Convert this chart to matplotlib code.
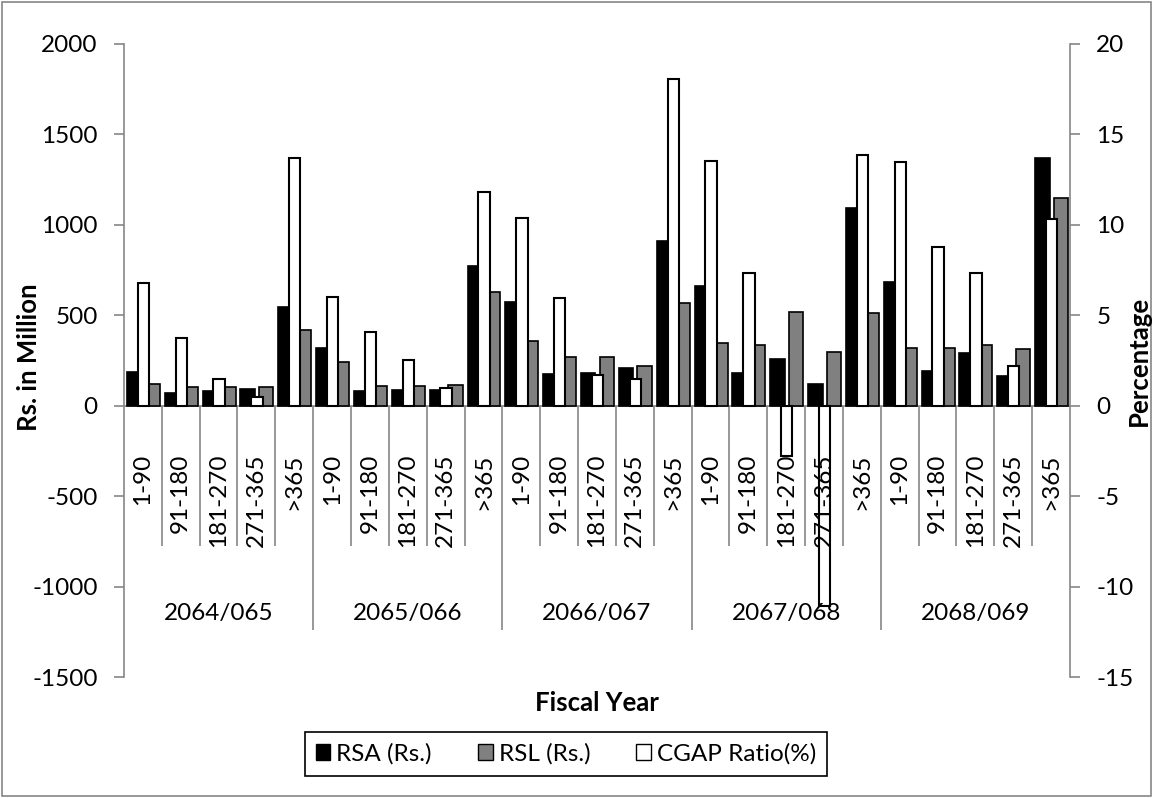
import numpy as np
import matplotlib
matplotlib.use("Agg")
import matplotlib.pyplot as plt
from matplotlib.patches import Patch, Rectangle

plt.rcParams['font.family'] = ['Lato', 'DejaVu Sans']
plt.rcParams['font.size'] = 17.5
plt.rcParams['axes.unicode_minus'] = False

# Data
years = ["2064/065", "2065/066", "2066/067", "2067/068", "2068/069"]
buckets = ["1-90", "91-180", "181-270", "271-365", ">365"]
rsa = [185, 68, 79, 92, 546,
       318, 81, 87, 89, 774,
       571, 174, 179, 209, 909,
       661, 183, 257, 122, 1094,
       683, 191, 294, 167, 1367]
rsl = [122, 101, 101, 105, 419,
       240, 109, 109, 114, 626,
       359, 270, 270, 218, 570,
       348, 333, 520, 298, 515,
       317, 320, 337, 311, 1148]
cgap = [6.77, 3.75, 1.48, 0.5, 13.7,
        6.0, 4.09, 2.53, 0.96, 11.83,
        10.39, 5.96, 1.72, 1.5, 18.07,
        13.53, 7.31, -2.8, -11.1, 13.85,
        13.5, 8.76, 7.33, 2.22, 10.31]

axis_grey = "#868686"
n = len(rsa)
x = np.arange(n)

fig = plt.figure(figsize=(11.53, 7.98), dpi=100)
ax = fig.add_axes([0.1075, 0.1516, 0.8205, 0.7933])
ax2 = ax.twinx()

# primary bars
ax.bar(x - 0.23, rsa, width=0.38, color="black", edgecolor="black", linewidth=1.2)
ax.bar(x + 0.26, rsl, width=0.38, color="#808080", edgecolor="black", linewidth=1.2)
# secondary bars (drawn on top)
ax2.bar(x + 0.015, cgap, width=0.30, color="white", edgecolor="black", linewidth=1.5)

ax.set_xlim(-0.5, n - 0.5)
ax.set_ylim(-1500, 2000)
ax2.set_ylim(-15, 20)
ax.set_yticks(np.arange(-1500, 2001, 500))
ax2.set_yticks(np.arange(-15, 21, 5))
ax.set_xticks([])
ax2.set_xticks([])

for a in (ax, ax2):
    for s in ("top", "bottom"):
        a.spines[s].set_visible(False)
    a.tick_params(axis="y", length=7, width=1.2, color=axis_grey, pad=12)
ax.spines["left"].set_color(axis_grey)
ax.spines["left"].set_linewidth(1.2)
ax.spines["right"].set_visible(False)
ax2.spines["left"].set_visible(False)
ax2.spines["right"].set_color(axis_grey)
ax2.spines["right"].set_linewidth(1.2)

# category axis at zero
ax.axhline(0, color=axis_grey, linewidth=1.2, zorder=0.5)
for i in range(1, n):
    depth = -1240 if i % 5 == 0 else -775
    ax.vlines(i - 0.5, depth, 0, color=axis_grey, linewidth=1.2, zorder=0.5)

for i in range(n):
    ax2.text(i, -265, buckets[i % 5], transform=ax.transData, rotation=90,
             ha="center", va="top", fontsize=17.5)
for j, yr in enumerate(years):
    ax2.text(j * 5 + 2, -1150, yr, transform=ax.transData,
             ha="center", va="center", fontsize=17.5)

fig.text(0.025, 1 - 357 / 798, "Rs. in Million", rotation=90, ha="center", va="center",
         fontsize=18.5, fontweight="bold")
fig.text(0.988, 1 - 361 / 798, "Percentage", rotation=90, ha="center", va="center",
         fontsize=18.5, fontweight="bold")
fig.text(0.518, 1 - 703 / 798, "Fiscal Year", ha="center", va="center",
         fontsize=18.5, fontweight="bold")

handles = [Patch(facecolor="black", edgecolor="black", label="RSA (Rs.)"),
           Patch(facecolor="#808080", edgecolor="black", label="RSL (Rs.)"),
           Patch(facecolor="white", edgecolor="black", label="CGAP Ratio(%)")]
leg = fig.legend(handles=handles, loc="center", ncol=3,
                 bbox_to_anchor=(566 / 1153, 1 - 754 / 798),
                 handlelength=0.6, handleheight=0.6, handletextpad=0.25,
                 columnspacing=1.9, fancybox=False, framealpha=1,
                 borderpad=0.45, borderaxespad=0, fontsize=17.5)
leg.get_frame().set_edgecolor("black")
leg.get_frame().set_linewidth(1.2)

# outer chart border
fig.patches.append(Rectangle((0.002, 0.003), 0.996, 0.994, transform=fig.transFigure,
                             fill=False, edgecolor=axis_grey, linewidth=1.2))

fig.savefig("out.png", dpi=100)
